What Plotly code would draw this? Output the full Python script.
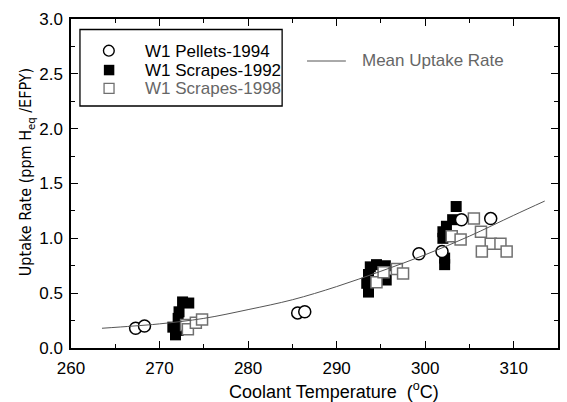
import plotly.graph_objects as go

# Data
pellets_x = [267.3, 268.3, 285.6, 286.4, 299.3, 301.9, 304.1, 307.4]
pellets_y = [0.18, 0.20, 0.32, 0.33, 0.86, 0.88, 1.17, 1.18]

scr92_x = [272.6, 273.3, 272.2, 272.1, 271.5, 272.1, 271.8, 272.4,
           293.6, 293.4, 293.6, 293.8, 294.5, 295.5, 295.6, 295.3,
           303.5, 303.1, 302.4, 302.0, 302.0, 302.2, 302.2]
scr92_y = [0.42, 0.41, 0.33, 0.27, 0.19, 0.16, 0.12, 0.21,
           0.51, 0.59, 0.67, 0.74, 0.76, 0.75, 0.62, 0.70,
           1.29, 1.17, 1.11, 1.06, 1.00, 0.82, 0.76]

scr98_x = [273.0, 273.2, 274.1, 274.8,
           294.5, 295.3, 296.8, 297.5,
           303.0, 304.0, 305.5, 306.3, 307.4, 308.5, 306.4, 309.2]
scr98_y = [0.21, 0.17, 0.23, 0.26,
           0.60, 0.69, 0.72, 0.68,
           1.02, 0.99, 1.18, 1.06, 0.95, 0.95, 0.88, 0.88]

mean_x = [263.5, 267, 270, 275, 280, 285, 290, 295, 300, 305, 310, 313.5]
mean_y = [0.18, 0.20, 0.22, 0.27, 0.35, 0.44, 0.56, 0.70, 0.85, 1.02, 1.21, 1.34]

x_ticks = [260, 270, 280, 290, 300, 310]
y_ticks = [0.0, 0.5, 1.0, 1.5, 2.0, 2.5, 3.0]

legend_names = ["W1 Pellets-1994", "W1 Scrapes-1992", "W1 Scrapes-1998"]
line_name = "Mean Uptake Rate"
x_title = "Coolant Temperature  (<sup>o</sup>C)"
y_title = "Uptake Rate (ppm H<sub>eq</sub> /EFPY)"

FONT = "Liberation Sans, Arial, sans-serif"
NARROW = "Liberation Sans Narrow, Arial Narrow, DejaVu Sans Condensed, Liberation Sans, sans-serif"
GRAY_SQ = "#707070"
GRAY_TXT = "#666666"
LINE_COL = "#555555"

W, H = 567, 402
ML, MR, MT, MB = 71, 7, 19, 54
pw, ph = W - ML - MR, H - MT - MB


def px(x):
    return (x - ML) / pw


def py(y):
    return (H - MB - y) / ph


fig = go.Figure()
fig.add_trace(go.Scatter(
    x=scr92_x, y=scr92_y, mode="markers", name=legend_names[1],
    marker=dict(symbol="square", size=11, color="black", line=dict(width=0))))
fig.add_trace(go.Scatter(
    x=scr98_x, y=scr98_y, mode="markers", name=legend_names[2],
    marker=dict(symbol="square", size=11, color="white", line=dict(width=1.5, color=GRAY_SQ))))
fig.add_trace(go.Scatter(
    x=pellets_x, y=pellets_y, mode="markers", name=legend_names[0],
    marker=dict(symbol="circle", size=12, color="white", line=dict(width=1.5, color="black"))))
fig.add_trace(go.Scatter(
    x=mean_x, y=mean_y, mode="lines", name=line_name,
    line=dict(color=LINE_COL, width=1, shape="spline")))

axis_common = dict(
    showline=True, linecolor="black", linewidth=1.5, mirror="ticks",
    ticks="inside", ticklen=7, tickwidth=1.2, tickcolor="black",
    showgrid=False, zeroline=False,
    tickfont=dict(family=FONT, size=17, color="black"),
)

fig.update_xaxes(range=[260, 315], tickvals=x_ticks, ticklabelstandoff=4,
                 minor=dict(dtick=5, tick0=260, ticks="inside", ticklen=4,
                            tickcolor="black", tickwidth=1.2),
                 **axis_common)
fig.update_yaxes(range=[0, 3], tickvals=y_ticks, tickformat=".1f",
                 ticklabelstandoff=3,
                 minor=dict(dtick=0.25, tick0=0, ticks="inside", ticklen=4,
                            tickcolor="black", tickwidth=1.2),
                 **axis_common)

# Legend drawn as a framed box (reference layout)
shapes = [
    dict(type="rect", xref="paper", yref="paper",
         x0=px(80), x1=px(283), y0=py(106), y1=py(29.5),
         line=dict(color="black", width=1.3), fillcolor="white", layer="above"),
    dict(type="circle", xref="paper", yref="paper",
         x0=px(103.6), x1=px(114.4), y0=py(56.1), y1=py(45.3),
         line=dict(color="black", width=1.4), fillcolor="white", layer="above"),
    dict(type="rect", xref="paper", yref="paper",
         x0=px(104), x1=px(114.5), y0=py(75.3), y1=py(64.8),
         line=dict(width=0), fillcolor="black", layer="above"),
    dict(type="rect", xref="paper", yref="paper",
         x0=px(104.2), x1=px(114.2), y0=py(93.3), y1=py(83.3),
         line=dict(color=GRAY_SQ, width=1.3), fillcolor="white", layer="above"),
    dict(type="line", xref="paper", yref="paper",
         x0=px(308), x1=px(347), y0=py(61), y1=py(61),
         line=dict(color=LINE_COL, width=1), layer="above"),
]

annotations = [
    dict(text=legend_names[0], x=px(143), y=py(51), xanchor="left", yanchor="middle",
         font=dict(family=FONT, size=17, color="black")),
    dict(text=legend_names[1], x=px(143), y=py(70), xanchor="left", yanchor="middle",
         font=dict(family=FONT, size=17, color="black")),
    dict(text=legend_names[2], x=px(143), y=py(88.5), xanchor="left", yanchor="middle",
         font=dict(family=FONT, size=17, color=GRAY_TXT)),
    dict(text=line_name, x=px(361), y=py(61), xanchor="left", yanchor="middle",
         font=dict(family=FONT, size=17, color=GRAY_TXT)),
    dict(text=x_title, x=px(335), y=py(390), xanchor="center", yanchor="middle",
         font=dict(family=FONT, size=18, color="black")),
    dict(text=y_title, x=px(26), y=py(172), xanchor="center", yanchor="middle",
         textangle=-90, font=dict(family=NARROW, size=16, color="black")),
]
for a in annotations:
    a.update(xref="paper", yref="paper", showarrow=False)

fig.update_layout(
    width=W, height=H,
    margin=dict(l=ML, r=MR, t=MT, b=MB),
    paper_bgcolor="white", plot_bgcolor="white",
    font=dict(family=FONT, size=16, color="black"),
    showlegend=False,
    shapes=shapes,
    annotations=annotations,
)

fig.write_html("out.html")
